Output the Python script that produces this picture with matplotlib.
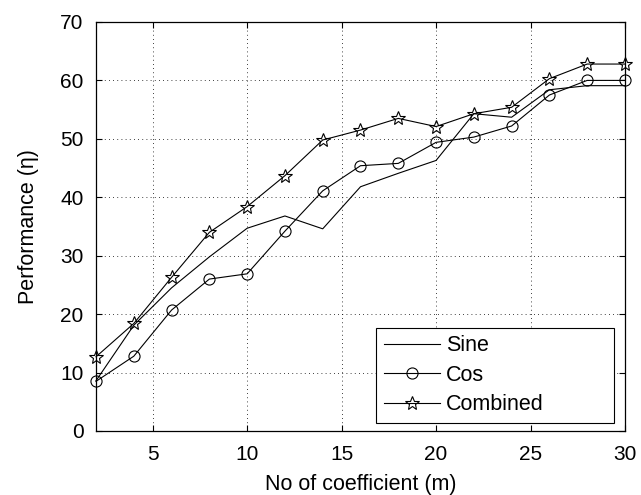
import matplotlib
matplotlib.use("Agg")
import matplotlib.pyplot as plt

plt.rcParams['font.family'] = ['Liberation Sans', 'DejaVu Sans']

coeffs = [2, 4, 6, 8, 10, 12, 14, 16, 18, 20, 22, 24, 26, 28, 30]
sine = [8.6, 18.1, 24.5, 29.8, 34.7, 36.8, 34.6, 41.8, 44.1, 46.3, 54.3, 53.7, 58.4, 59.1, 59.1]
cos = [8.5, 12.8, 20.7, 26.0, 26.9, 34.2, 41.1, 45.4, 45.8, 49.4, 50.3, 52.2, 57.5, 60.0, 60.0]
combined = [12.7, 18.4, 26.3, 34.0, 38.4, 43.7, 49.8, 51.5, 53.5, 52.1, 54.3, 55.4, 60.3, 62.8, 62.8]

fig = plt.figure(figsize=(6.41, 4.95), dpi=100)
ax = fig.add_axes([0.1498, 0.1293, 0.8252, 0.8263])

ax.plot(coeffs, sine, color="black", lw=0.8, label="Sine", clip_on=False)
ax.plot(coeffs, cos, color="black", lw=0.8, marker="o", ms=8, mfc="none",
        mew=0.8, label="Cos", clip_on=False)
ax.plot(coeffs, combined, color="black", lw=0.8, marker="*", ms=10, mfc="none",
        mew=0.8, label="Combined", clip_on=False)

ax.set_xlim(2, 30)
ax.set_ylim(0, 70)
ax.set_xticks([5, 10, 15, 20, 25, 30])
ax.set_yticks(range(0, 71, 10))
ax.tick_params(direction="in", top=True, right=True, labelsize=15, length=4)
ax.tick_params(axis="x", pad=10)
ax.tick_params(axis="y", pad=9)
ax.grid(True, linestyle=(0, (1, 4)), color="black", lw=0.6)
for s in ax.spines.values():
    s.set_linewidth(0.9)

ax.set_xlabel("No of coefficient (m)", fontsize=15.5, labelpad=7)
ax.set_ylabel("Performance (\u03b7)", fontsize=15.5, labelpad=15)

# legend box stretched like the MATLAB one
leg = ax.legend(loc="lower left", bbox_to_anchor=(0.530, 0.0196, 0.45, 0.25),
                mode="expand", fontsize=15.5, fancybox=False, framealpha=1,
                edgecolor="black", borderpad=0.35, labelspacing=0.4,
                handlelength=2.6, handletextpad=0.3, borderaxespad=0)
leg.get_frame().set_linewidth(0.8)

fig.savefig("out.png", dpi=100)
